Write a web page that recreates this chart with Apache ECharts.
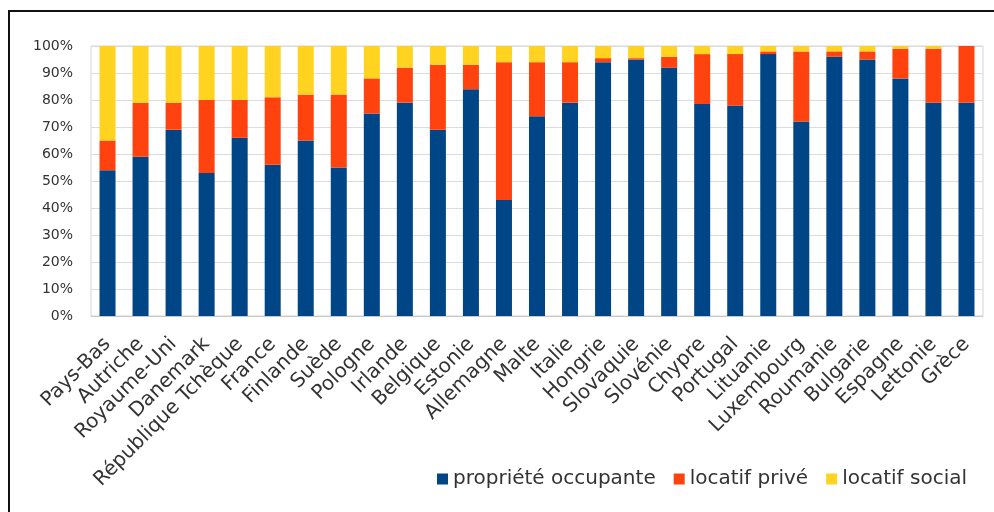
<!DOCTYPE html>
<html>
<head>
<meta charset="utf-8">
<script src="https://cdn.jsdelivr.net/npm/echarts@6/dist/echarts.min.js"></script>
<style>
html,body{margin:0;padding:0;background:#fff;}
#c{width:994px;height:512px;}
</style>
</head>
<body>
<div id="c"></div>
<script>
const categories = ["Pays-Bas","Autriche","Royaume-Uni","Danemark","République Tchèque","France","Finlande","Suède","Pologne","Irlande","Belgique","Estonie","Allemagne","Malte","Italie","Hongrie","Slovaquie","Slovénie","Chypre","Portugal","Lituanie","Luxembourg","Roumanie","Bulgarie","Espagne","Lettonie","Grèce"];
const proprieteOccupante = [54,59,69,53,66,56,65,55,75,79,69,84,43,74,79,94,95,92,78.5,78,97,72,96,95,88,79,79];
const locatifPrive =      [11,20,10,27,14,25,17,27,13,13,24,9,51,20,15,1.5,0.5,4,18.5,19,1,26,2,3,11,20,21];
const locatifSocial =     [35,21,21,20,20,19,18,18,12,8,7,7,6,6,6,4.5,4.5,4,3,3,2,2,2,2,1,1,0];
const yTicks = [0,10,20,30,40,50,60,70,80,90,100];

const chart = echarts.init(document.getElementById('c'));
const font = '"DejaVu Sans", sans-serif';
chart.setOption({
  animation:false,
  backgroundColor:'#fff',
  textStyle:{fontFamily:font},
  grid:{left:91,right:11,top:46,bottom:196,show:true,borderColor:'#d4d4d4',borderWidth:1},
  legend:{
    data:['propriété occupante','locatif privé','locatif social'],
    right:22, top:464, icon:'rect', itemWidth:11, itemHeight:11, itemGap:18,
    textStyle:{fontSize:20,color:'#333',fontFamily:font}
  },
  xAxis:{
    type:'category', data:categories,
    axisLine:{lineStyle:{color:'#c8c8c8'}},
    axisTick:{show:false},
    axisLabel:{rotate:45,interval:0,fontSize:20,color:'#333',margin:25,fontFamily:font}
  },
  yAxis:{
    type:'value', min:yTicks[0], max:yTicks[yTicks.length-1], interval:10,
    axisLine:{show:false}, axisTick:{show:false},
    splitLine:{lineStyle:{color:'#dcdcdc'}},
    axisLabel:{formatter:'{value}%',fontSize:14,color:'#333',margin:18,fontFamily:font}
  },
  series:[
    {name:'propriété occupante',type:'bar',stack:'t',barWidth:16,data:proprieteOccupante,itemStyle:{color:'#004586'}},
    {name:'locatif privé',type:'bar',stack:'t',barWidth:16,data:locatifPrive,itemStyle:{color:'#ff420e'}},
    {name:'locatif social',type:'bar',stack:'t',barWidth:16,data:locatifSocial,itemStyle:{color:'#ffd320'}}
  ],
  graphic:[
    {type:'line',shape:{x1:8,y1:11,x2:994,y2:11},style:{stroke:'#111',lineWidth:2},silent:true},
    {type:'line',shape:{x1:9,y1:10,x2:9,y2:512},style:{stroke:'#111',lineWidth:2},silent:true}
  ]
});
</script>
</body>
</html>
